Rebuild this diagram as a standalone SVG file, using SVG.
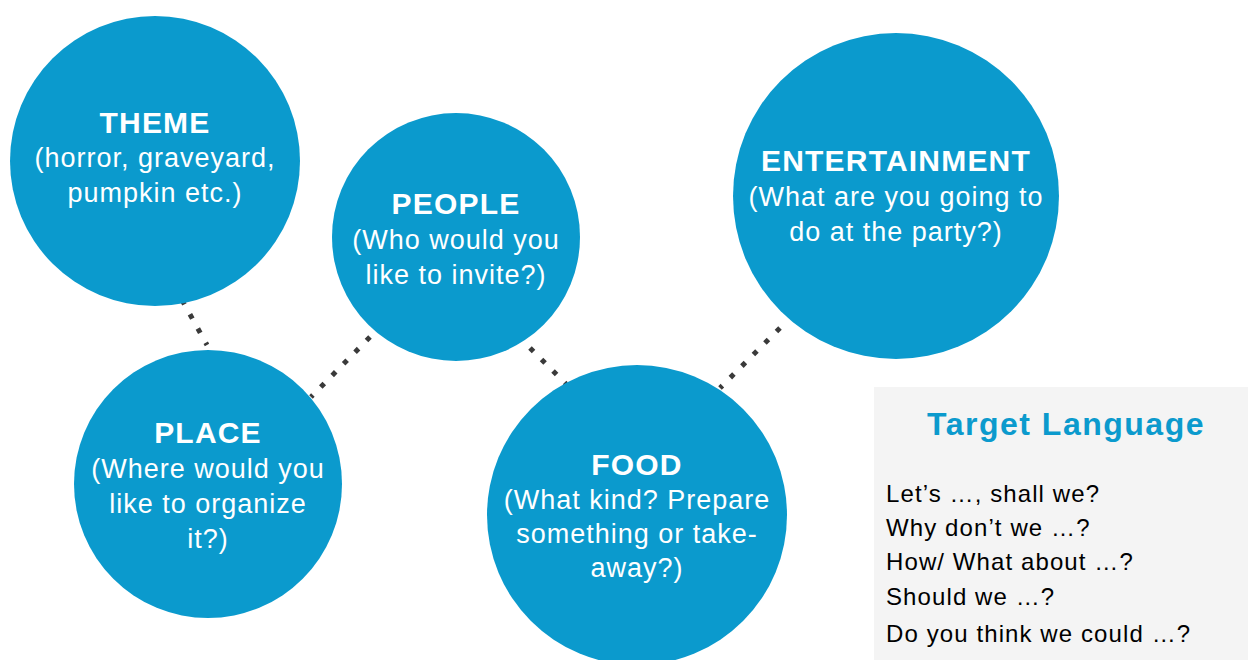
<svg xmlns="http://www.w3.org/2000/svg" width="1248" height="660" viewBox="0 0 1248 660">
<style>
.c{fill:#0b9acd}
.t{font-family:"Liberation Sans",Arial,sans-serif;fill:#fff;text-anchor:middle}
.h{font-weight:bold;font-size:30px;letter-spacing:1.2px}
.s{font-size:27px;letter-spacing:1px}
.dot{stroke:#3a3a3a;stroke-width:5;stroke-dasharray:5 11.3;fill:none}
.tl{font-family:"Liberation Sans",Arial,sans-serif;font-size:24px;letter-spacing:1.1px;fill:#000}
</style>
<rect width="1248" height="660" fill="#fff"/>
<g id="connectors">
<line class="dot" x1="182" y1="300" x2="207" y2="345"/>
<line class="dot" x1="370" y1="337" x2="311" y2="397"/>
<line class="dot" x1="530" y1="348" x2="566" y2="384"/>
<line class="dot" x1="780" y1="328" x2="720" y2="388"/>
</g>
<g id="theme">
<circle class="c" cx="155" cy="161" r="145"/>
<text class="t h" x="155" y="133">THEME</text>
<text class="t s" x="155" y="167">(horror, graveyard,</text>
<text class="t s" x="155" y="202">pumpkin etc.)</text>
</g>
<g id="people">
<circle class="c" cx="456" cy="237" r="124"/>
<text class="t h" x="456" y="214">PEOPLE</text>
<text class="t s" x="456" y="249">(Who would you</text>
<text class="t s" x="456" y="284">like to invite?)</text>
</g>
<g id="entertainment">
<circle class="c" cx="896" cy="196" r="163"/>
<text class="t h" x="896" y="171">ENTERTAINMENT</text>
<text class="t s" x="896" y="206">(What are you going to</text>
<text class="t s" x="896" y="241">do at the party?)</text>
</g>
<g id="place">
<circle class="c" cx="208" cy="484" r="134"/>
<text class="t h" x="208" y="443">PLACE</text>
<text class="t s" x="208" y="478">(Where would you</text>
<text class="t s" x="208" y="513">like to organize</text>
<text class="t s" x="208" y="548">it?)</text>
</g>
<g id="food">
<circle class="c" cx="637" cy="515" r="150"/>
<text class="t h" x="637" y="475">FOOD</text>
<text class="t s" x="637" y="509">(What kind? Prepare</text>
<text class="t s" x="637" y="543">something or take-</text>
<text class="t s" x="637" y="577">away?)</text>
</g>
<g id="target-language">
<rect x="874" y="387" width="374" height="273" fill="#f4f4f4"/>
<text x="1066" y="435" font-family="Liberation Sans,Arial,sans-serif" font-weight="bold" font-size="32" letter-spacing="1.5" fill="#0b9acd" text-anchor="middle">Target Language</text>
<text class="tl" x="886" y="502">Let’s …, shall we?</text>
<text class="tl" x="886" y="536">Why don’t we …?</text>
<text class="tl" x="886" y="570">How/ What about …?</text>
<text class="tl" x="886" y="605">Should we …?</text>
<text class="tl" x="886" y="642">Do you think we could …?</text>
</g>
</svg>
